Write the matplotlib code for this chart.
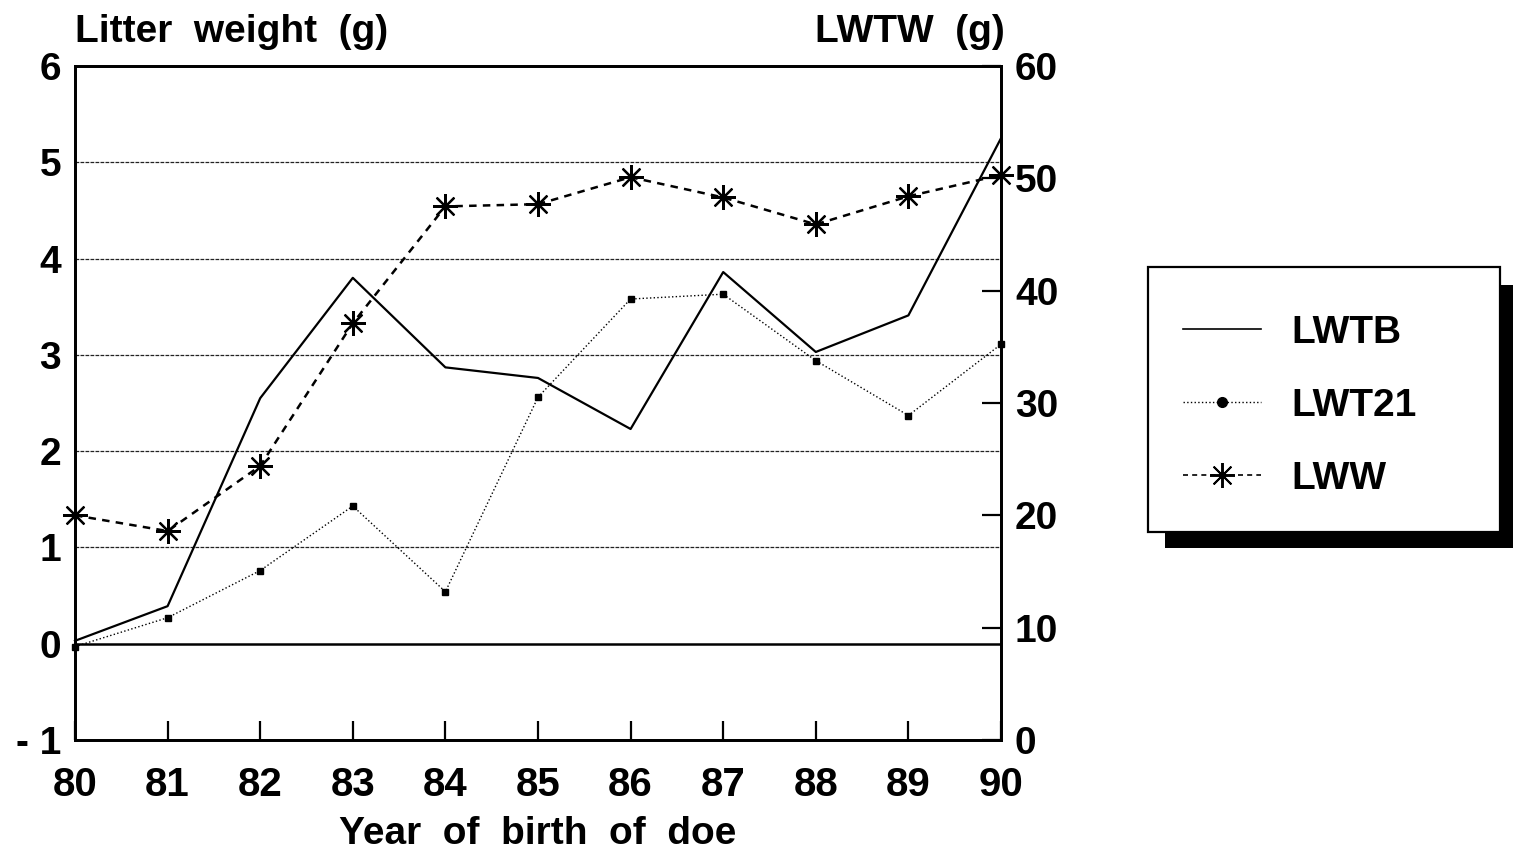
import matplotlib
matplotlib.use("Agg")
import matplotlib.pyplot as plt
from matplotlib.patches import Rectangle
from matplotlib.lines import Line2D

plt.rcParams['font.family'] = ['Liberation Sans', 'DejaVu Sans']
plt.rcParams['font.weight'] = 'bold'

# data
years = [80, 81, 82, 83, 84, 85, 86, 87, 88, 89, 90]
lwtb = [0.03, 0.39, 2.55, 3.80, 2.87, 2.76, 2.23, 3.86, 3.03, 3.41, 5.25]
lwt21 = [-0.03, 0.27, 0.76, 1.43, 0.54, 2.56, 3.58, 3.63, 2.94, 2.37, 3.11]
lww = [20.0, 18.6, 24.4, 37.1, 47.5, 47.7, 50.1, 48.3, 45.9, 48.4, 50.3]

left_ticks = [-1, 0, 1, 2, 3, 4, 5, 6]
right_ticks = [0, 10, 20, 30, 40, 50, 60]

fig = plt.figure(figsize=(15.13, 8.56), dpi=100)
W, H = 1513, 856
ax = fig.add_axes([75 / W, 1 - 740 / H, 926 / W, 674 / H])
ax2 = ax.twinx()

# horizontal grid
for g in [1, 2, 3, 4, 5]:
    ax.axhline(g, color='#222222', lw=0.9, ls=(0, (3, 1)), zorder=1)
ax.axhline(0, color='black', lw=1.8, zorder=1)

ax.plot(years, lwtb, color='black', lw=1.6, zorder=3, clip_on=False)
ax.plot(years, lwt21, color='black', lw=1.0, ls=':', marker='s', ms=5, zorder=3, clip_on=False)
ax2.plot(years, lww, color='black', lw=1.8, ls=(0, (3, 2.5)),
         marker=(8, 2, 0), ms=18, mew=1.6, zorder=3, clip_on=False)

ax.set_xlim(80, 90)
ax.set_ylim(-1, 6)
ax2.set_ylim(0, 60)

ax.set_xticks(years)
ax.set_xticklabels([str(y) for y in years])
ax.set_yticks(left_ticks)
ax.set_yticklabels(['- 1', '0', '1', '2', '3', '4', '5', '6'])
ax2.set_yticks(right_ticks)

ax.tick_params(axis='x', direction='in', length=14, width=1.6, labelsize=29, pad=19)
ax.tick_params(axis='y', length=0, labelsize=28, pad=10)
ax2.tick_params(axis='y', direction='in', length=14, width=1.6, labelsize=28, pad=10)

for a in (ax, ax2):
    for s in a.spines.values():
        s.set_linewidth(2.0)

ax.set_xlabel('Year  of  birth  of  doe', fontsize=28, fontweight='bold', labelpad=8)
fig.text(75 / W, 1 - 32 / H, 'Litter  weight  (g)', fontsize=28, fontweight='bold',
         ha='left', va='center')
fig.text(1005 / W, 1 - 32 / H, 'LWTW  (g)', fontsize=28, fontweight='bold',
         ha='right', va='center')

# legend box with drop shadow
fig.add_artist(Rectangle((1165 / W, 1 - 548 / H), 348 / W, 263 / H,
                         transform=fig.transFigure, facecolor='black', edgecolor='none'))
fig.add_artist(Rectangle((1148 / W, 1 - 532 / H), 352 / W, 265 / H,
                         transform=fig.transFigure, facecolor='white',
                         edgecolor='black', lw=1.6))

handles = [
    Line2D([], [], color='black', lw=1.2),
    Line2D([], [], color='black', lw=1.0, ls=':', marker='o', ms=7),
    Line2D([], [], color='black', lw=1.2, ls=(0, (3, 2.5)), marker=(8, 2, 0), ms=18, mew=1.4),
]
fig.legend(handles, ['LWTB', 'LWT21', 'LWW'], loc='center',
           bbox_to_anchor=(1300 / W, 1 - 406 / H), frameon=False,
           prop={'size': 28, 'weight': 'bold'}, handlelength=2.0,
           handletextpad=0.8, labelspacing=0.95)

fig.savefig('out.png', dpi=100)
